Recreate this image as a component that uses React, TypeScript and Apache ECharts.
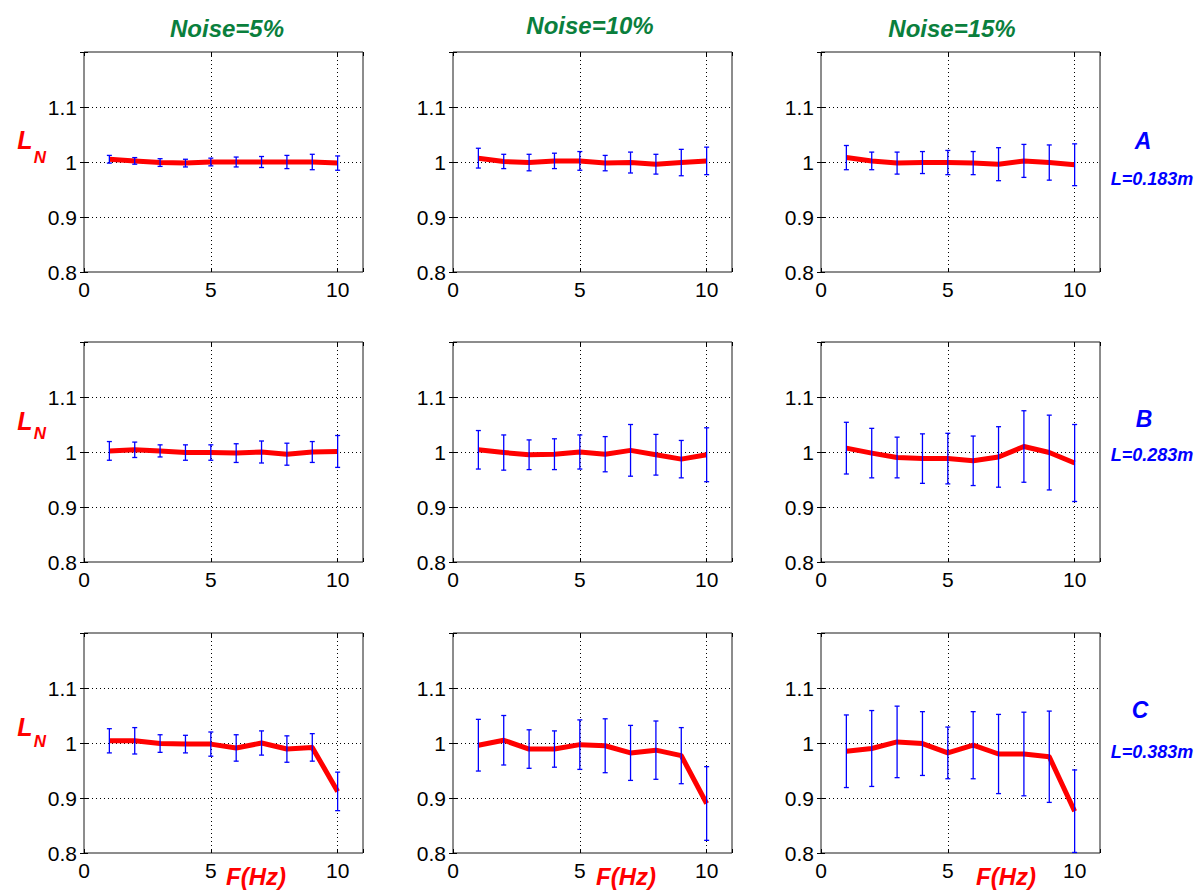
import React, { useEffect, useRef } from 'react';
import * as echarts from 'echarts';

// ---- Data ----
const freqs = [1, 2, 3, 4, 5, 6, 7, 8, 9, 10];
const noiseTitles = ['Noise=5%', 'Noise=10%', 'Noise=15%'];
const caseLetters = ['A', 'B', 'C'];
const caseLengths = ['L=0.183m', 'L=0.283m', 'L=0.383m'];
const xTickLabels = ['0', '5', '10'];
const yTickLabels = ['0.8', '0.9', '1', '1.1'];

// Case A (L=0.183m)
const meanA5 = [1.005, 1.002, 0.999, 0.998, 1.0, 1.0, 1.0, 1.0, 1.0, 0.998];
const errA5 = [0.007, 0.006, 0.007, 0.007, 0.007, 0.009, 0.01, 0.012, 0.014, 0.013];
const meanA10 = [1.007, 1.001, 0.999, 1.002, 1.002, 0.998, 0.999, 0.996, 0.999, 1.002];
const errA10 = [0.018, 0.013, 0.015, 0.014, 0.017, 0.014, 0.019, 0.018, 0.024, 0.025];
const meanA15 = [1.008, 1.002, 0.998, 0.999, 0.999, 0.998, 0.996, 1.002, 0.999, 0.995];
const errA15 = [0.022, 0.016, 0.02, 0.02, 0.022, 0.021, 0.03, 0.03, 0.032, 0.038];

// Case B (L=0.283m)
const meanB5 = [1.002, 1.004, 1.002, 0.999, 0.999, 0.998, 1.0, 0.996, 1.0, 1.001];
const errB5 = [0.017, 0.014, 0.011, 0.014, 0.014, 0.017, 0.02, 0.02, 0.019, 0.029];
const meanB10 = [1.004, 0.999, 0.995, 0.996, 1.0, 0.996, 1.003, 0.995, 0.987, 0.995];
const errB10 = [0.035, 0.032, 0.027, 0.028, 0.031, 0.032, 0.047, 0.037, 0.034, 0.049];
const meanB15 = [1.007, 0.998, 0.99, 0.988, 0.988, 0.984, 0.991, 1.01, 0.999, 0.98];
const errB15 = [0.047, 0.045, 0.037, 0.045, 0.046, 0.045, 0.055, 0.065, 0.068, 0.07];

// Case C (L=0.383m)
const meanC5 = [1.004, 1.004, 0.999, 0.998, 0.998, 0.991, 1.0, 0.989, 0.992, 0.912];
const errC5 = [0.022, 0.024, 0.016, 0.016, 0.022, 0.024, 0.022, 0.024, 0.025, 0.035];
const meanC10 = [0.996, 1.005, 0.989, 0.989, 0.997, 0.995, 0.982, 0.987, 0.977, 0.89];
const errC10 = [0.047, 0.045, 0.035, 0.033, 0.045, 0.049, 0.05, 0.053, 0.051, 0.067];
const meanC15 = [0.985, 0.99, 1.002, 0.999, 0.982, 0.996, 0.98, 0.98, 0.975, 0.876];
const errC15 = [0.066, 0.069, 0.065, 0.058, 0.047, 0.061, 0.072, 0.076, 0.083, 0.075];

const panelMeans = [meanA5, meanA10, meanA15, meanB5, meanB10, meanB15, meanC5, meanC10, meanC15];
const panelErrs = [errA5, errA10, errA15, errB5, errB10, errB15, errC5, errC10, errC15];

// ---- Layout ----
const W = 1198;
const H = 892;
const colLefts = [84, 453, 821];
const rowTops = [52, 342, 633];
const gridW = 279;
const gridH = 220;
const FONT = '"Liberation Sans", Arial, Helvetica, sans-serif';

function textEl(text: string, x: number, y: number, color: string, size: number, align = 'center') {
  return {
    type: 'text',
    x,
    y,
    silent: true,
    style: {
      text,
      fill: color,
      font: `italic bold ${size}px ${FONT}`,
      align,
      textAlign: align,
      verticalAlign: 'middle',
      textVerticalAlign: 'middle',
    },
  };
}

function buildOption() {
  const grid: any[] = [];
  const xAxis: any[] = [];
  const yAxis: any[] = [];
  const series: any[] = [];
  const n = 9;

  for (let i = 0; i < n; i++) {
    const r = Math.floor(i / 3);
    const c = i % 3;
    grid.push({
      left: colLefts[c],
      top: rowTops[r],
      width: gridW,
      height: gridH,
      show: true,
      borderColor: '#1a1a1a',
      borderWidth: 1,
      backgroundColor: '#ffffff',
      containLabel: false,
    });
  }

  for (let i = 0; i < n; i++) {
    xAxis.push({
      type: 'value',
      gridIndex: i,
      min: 0,
      max: 11,
      interval: 5,
      axisLine: { show: false },
      axisTick: { show: true, inside: true, length: 4, lineStyle: { color: '#000' } },
      axisLabel: {
        show: true,
        margin: 7,
        fontSize: 21,
        fontFamily: FONT,
        color: '#000',
        formatter: (v: number) => (xTickLabels.includes(String(v)) ? String(v) : ''),
      },
      splitLine: {
        show: true,
        showMinLine: false,
        showMaxLine: false,
        lineStyle: { color: '#000', width: 1, type: [1, 3] },
      },
    });
    yAxis.push({
      type: 'value',
      gridIndex: i,
      min: 0.8,
      max: 1.2,
      interval: 0.1,
      axisLine: { show: false },
      axisTick: { show: true, inside: true, length: 4, lineStyle: { color: '#000' } },
      axisLabel: {
        show: true,
        margin: 7,
        fontSize: 21,
        fontFamily: FONT,
        color: '#000',
        formatter: (v: number) => {
          const s = String(Math.round(v * 10) / 10);
          return yTickLabels.includes(s) ? s : '';
        },
      },
      splitLine: {
        show: true,
        showMinLine: false,
        showMaxLine: false,
        lineStyle: { color: '#000', width: 1, type: [1, 3] },
      },
    });
  }
  // mirrored ticks (top / right)
  for (let i = 0; i < n; i++) {
    xAxis.push({
      type: 'value',
      gridIndex: i,
      position: 'top',
      min: 0,
      max: 11,
      interval: 5,
      axisLine: { show: false },
      axisTick: { show: true, inside: true, length: 4, lineStyle: { color: '#000' } },
      axisLabel: { show: false },
      splitLine: { show: false },
    });
    yAxis.push({
      type: 'value',
      gridIndex: i,
      position: 'right',
      min: 0.8,
      max: 1.2,
      interval: 0.1,
      axisLine: { show: false },
      axisTick: { show: true, inside: true, length: 4, lineStyle: { color: '#000' } },
      axisLabel: { show: false },
      splitLine: { show: false },
    });
  }

  for (let i = 0; i < n; i++) {
    const means = panelMeans[i];
    const errs = panelErrs[i];
    series.push({
      type: 'line',
      xAxisIndex: i,
      yAxisIndex: i,
      data: freqs.map((f, k) => [f, means[k]]),
      symbol: 'none',
      showSymbol: false,
      lineStyle: { color: '#ff0000', width: 5, join: 'round' },
      itemStyle: { color: '#ff0000' },
      z: 2,
    });
    series.push({
      type: 'custom',
      xAxisIndex: i,
      yAxisIndex: i,
      data: freqs.map((f, k) => [f, means[k] - errs[k], means[k] + errs[k]]),
      encode: { x: 0, y: [1, 2] },
      z: 3,
      renderItem: (params: any, api: any) => {
        const x = api.value(0);
        const lo = api.coord([x, api.value(1)]);
        const hi = api.coord([x, api.value(2)]);
        const cw = 2.5;
        const st = { stroke: '#0000ff', lineWidth: 1.3 };
        return {
          type: 'group',
          children: [
            { type: 'line', shape: { x1: lo[0], y1: lo[1], x2: hi[0], y2: hi[1] }, style: st },
            { type: 'line', shape: { x1: lo[0] - cw, y1: lo[1], x2: lo[0] + cw, y2: lo[1] }, style: st },
            { type: 'line', shape: { x1: hi[0] - cw, y1: hi[1], x2: hi[0] + cw, y2: hi[1] }, style: st },
          ],
        };
      },
    });
  }

  const graphic: any[] = [];
  const titleX = [227, 590, 952];
  const titleY = [28, 25, 28];
  for (let c = 0; c < 3; c++) {
    graphic.push(textEl(noiseTitles[c], titleX[c], titleY[c], '#0a7f3d', 24));
  }
  const lY = [140, 421, 727];
  const nY = [157, 433, 741];
  for (let r = 0; r < 3; r++) {
    graphic.push(textEl('L', 25, lY[r], '#ff0000', 25));
    graphic.push(textEl('N', 40, nY[r], '#ff0000', 17));
  }
  const letterY = [141, 419, 710];
  const lenY = [179, 455, 752];
  const letterX = [1143, 1144, 1140];
  for (let r = 0; r < 3; r++) {
    graphic.push(textEl(caseLetters[r], letterX[r], letterY[r], '#0000ff', 23));
    graphic.push(textEl(caseLengths[r], 1152, lenY[r], '#0000ff', 18));
  }
  const fX = [256, 626, 1006];
  for (let c = 0; c < 3; c++) {
    graphic.push(textEl('F(Hz)', fX[c], 876, '#ff0000', 24));
  }

  return {
    animation: false,
    backgroundColor: '#ffffff',
    grid,
    xAxis,
    yAxis,
    series,
    graphic,
  };
}

export default function App() {
  const ref = useRef<HTMLDivElement>(null);
  useEffect(() => {
    if (!ref.current) return;
    const chart = echarts.init(ref.current, undefined, { renderer: 'svg', width: W, height: H });
    chart.setOption(buildOption() as any);
    return () => {
      chart.dispose();
    };
  }, []);
  return (
    <div
      ref={ref}
      style={{ position: 'fixed', left: 0, top: 0, width: W, height: H, background: '#fff' }}
    />
  );
}
